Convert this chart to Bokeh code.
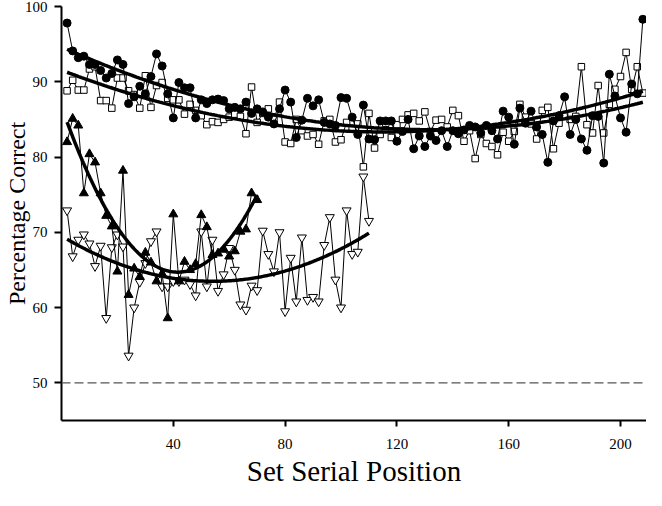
import numpy as np
from bokeh.plotting import figure
from bokeh.models import Range1d, Span, FixedTicker
from bokeh.embed import file_html
from bokeh.resources import INLINE

# Set serial positions (every second set)
x_long = list(range(2, 209, 2))
x_up = list(range(2, 71, 2))
x_down = list(range(2, 111, 2))

circles = [97.8, 94.1, 93.2, 93.4, 92.3, 92.3, 91.5, 90.5, 91.1, 92.9,
           92.3, 87.1, 88.0, 89.4, 88.4, 90.7, 93.7, 92.1, 88.4, 85.2,
           89.9, 89.2, 89.2, 85.2, 87.6, 87.1, 87.6, 87.7, 87.5, 86.4,
           86.6, 86.4, 87.3, 85.8, 86.4, 86.0, 85.3, 84.4, 86.4, 88.9,
           87.3, 82.6, 84.9, 87.8, 86.8, 87.6, 84.6, 84.4, 84.2, 87.9,
           87.8, 85.3, 83.0, 86.9, 82.4, 82.3, 84.8, 84.8, 84.8, 82.1,
           83.4, 85.0, 81.1, 82.8, 81.4, 82.8, 82.2, 83.5, 81.4, 83.5,
           83.1, 83.6, 84.2, 84.0, 83.2, 84.2, 83.5, 82.4, 86.1, 85.3,
           81.7, 86.5, 84.5, 86.1, 84.0, 83.0, 79.3, 84.8, 85.5, 88.0,
           83.0, 85.0, 82.4, 80.9, 85.5, 85.4, 79.2, 91.0, 88.1, 85.2,
           83.3, 89.7, 88.4, 98.3]

squares = [88.8, 90.2, 88.9, 88.9, 91.7, 92.0, 87.5, 87.5, 86.5, 90.5,
           90.5, 88.8, 88.3, 86.5, 90.8, 86.6, 89.5, 89.9, 87.8, 87.6,
           87.6, 85.7, 87.0, 86.2, 85.5, 84.3, 84.7, 84.6, 85.0, 85.3,
           85.7, 85.4, 83.1, 89.3, 84.6, 85.8, 86.4, 85.0, 87.3, 82.0,
           81.8, 85.0, 83.5, 82.8, 83.0, 81.7, 84.8, 85.0, 82.0, 82.3,
           84.6, 83.8, 84.4, 78.7, 85.8, 81.2, 83.0, 84.5, 82.6, 84.3,
           85.0, 85.6, 85.8, 84.8, 86.0, 83.4, 84.9, 85.0, 84.0, 86.2,
           85.5, 82.1, 83.5, 79.8, 83.0, 81.8, 81.4, 80.3, 83.3, 82.1,
           83.4, 87.0, 85.3, 84.4, 82.4, 86.2, 86.6, 81.1, 84.5, 85.5,
           85.0, 85.4, 92.0, 84.3, 83.2, 89.5, 83.2, 87.0, 89.0, 90.7,
           93.9, 89.0, 92.0, 88.5]

tri_up = [82.0, 85.1, 84.2, 75.2, 80.4, 79.3, 75.2, 72.2, 70.8, 64.8,
          78.2, 61.7, 65.2, 64.1, 67.3, 66.0, 63.5, 64.5, 58.6, 72.4,
          63.5, 66.1, 65.0, 65.8, 72.3, 70.7, 67.0, 67.2, 67.7, 66.8,
          67.5, 70.1, 70.4, 75.2, 74.3]

tri_down = [72.9, 66.8, 69.0, 69.7, 68.5, 65.5, 68.2, 58.6, 68.0, 69.7,
            68.1, 53.6, 60.0, 63.4, 65.9, 68.8, 70.1, 62.8, 62.8, 63.5,
            63.5, 63.7, 63.1, 61.6, 70.1, 62.8, 69.0, 62.2, 64.4, 67.9,
            65.0, 60.4, 59.7, 62.9, 62.3, 70.2, 67.1, 64.8, 70.0, 59.5,
            66.6, 60.8, 69.3, 61.0, 61.4, 60.8, 68.3, 72.0, 63.7, 60.0,
            72.9, 67.1, 67.4, 77.4, 71.5]

x_ticks = [40, 80, 120, 160, 200]
y_ticks = [50, 60, 70, 80, 90, 100]
chance = 50

FONT = "Liberation Serif"

p = figure(width=646, height=490, output_backend="svg", toolbar_location=None,
           x_range=Range1d(0, 209.3), y_range=Range1d(45, 100),
           min_border_left=61, min_border_right=0, min_border_top=6,
           min_border_bottom=70, background_fill_color="white",
           border_fill_color="white")
p.outline_line_color = None
p.grid.visible = False

for ax in (p.xaxis[0], p.yaxis[0]):
    ax.axis_line_width = 2
    ax.axis_line_color = "black"
    ax.major_tick_line_width = 2
    ax.major_tick_line_color = "black"
    ax.major_tick_in = 0
    ax.minor_tick_line_color = None
    ax.major_label_text_font = FONT
    ax.major_label_text_font_size = "15px"
    ax.major_label_text_color = "black"

p.xaxis.ticker = FixedTicker(ticks=x_ticks)
p.yaxis.ticker = FixedTicker(ticks=y_ticks)
p.xaxis.major_tick_out = 6
p.yaxis.major_tick_out = 7
p.xaxis.major_label_standoff = 12
p.yaxis.major_label_standoff = 7
p.xaxis.axis_label = "Set Serial Position"
p.xaxis.axis_label_text_font = FONT
p.xaxis.axis_label_text_font_size = "29px"
p.xaxis.axis_label_text_font_style = "normal"
p.xaxis.axis_label_text_color = "black"
p.xaxis.axis_label_standoff = 3

p.yaxis.axis_label = "Percentage Correct"
p.yaxis.axis_label_text_font = FONT
p.yaxis.axis_label_text_font_size = "24px"
p.yaxis.axis_label_text_font_style = "normal"
p.yaxis.axis_label_text_color = "black"
p.yaxis.axis_label_standoff = -8

p.add_layout(Span(location=chance, dimension="width", line_color="#555555",
                  line_width=1.3, line_dash="9 4"))

# open squares
p.line(x_long, squares, line_color="black", line_width=1)
p.scatter(x_long, squares, marker="square", size=6.5, fill_color="white",
          line_color="black", line_width=1)
# filled circles
p.line(x_long, circles, line_color="black", line_width=1)
p.scatter(x_long, circles, marker="circle", size=8, fill_color="black",
          line_color="black")
# open inverted triangles
p.line(x_down, tri_down, line_color="black", line_width=1)
p.scatter(x_down, tri_down, marker="inverted_triangle", size=9,
          fill_color="white", line_color="black", line_width=1)
# filled triangles
p.line(x_up, tri_up, line_color="black", line_width=1)
p.scatter(x_up, tri_up, marker="triangle", size=9, fill_color="black",
          line_color="black")

# quadratic trend lines fitted to each series
for xs, ys in ((x_long, circles), (x_long, squares), (x_up, tri_up),
               (x_down, tri_down)):
    coef = np.polyfit(xs, ys, 2)
    xf = np.linspace(xs[0], xs[-1], 200)
    p.line(xf, np.polyval(coef, xf), line_color="black", line_width=3.5)

open("out.html", "w").write(file_html(p, INLINE))
